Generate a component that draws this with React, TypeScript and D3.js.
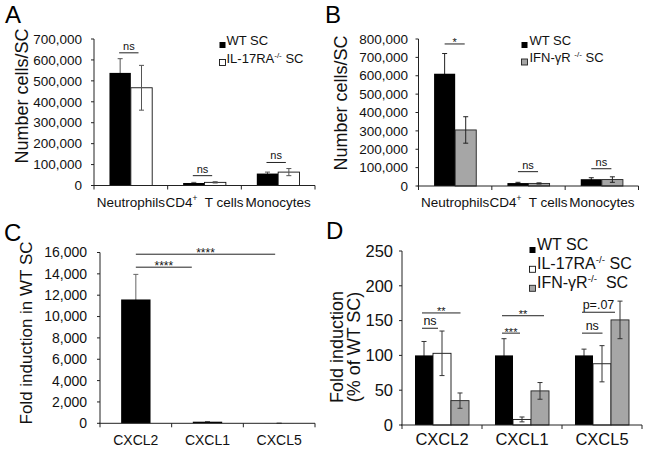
import React from "react";
import * as d3 from "d3";

// ---------- data ----------
const cellCategories = ["Neutrophils", "CD4^{+}  T cells", "Monocytes"];
const chemokines = ["CXCL2", "CXCL1", "CXCL5"];

const aWT = [538000, 12000, 57000];
const aWTErr = [68000, 3000, 7000];
const aIL17 = [467000, 15000, 64000];
const aIL17Err = [107000, 3000, 17000];
const aTicks = [0, 100000, 200000, 300000, 400000, 500000, 600000, 700000];

const bWT = [611000, 16000, 37000];
const bWTErr = [110000, 4000, 8000];
const bIFN = [305000, 14000, 35000];
const bIFNErr = [72000, 3000, 15000];
const bTicks = [0, 100000, 200000, 300000, 400000, 500000, 600000, 700000, 800000];

const cWT = [11600, 150, 5];
const cWTErr = [2350, 20, 2];
const cTicks = [0, 2000, 4000, 6000, 8000, 10000, 12000, 14000, 16000];

const dWT = [100, 100, 100];
const dWTErr = [20, 24, 9];
const dIL17 = [103, 8, 88];
const dIL17Err = [32, 3.5, 26];
const dIFN = [35, 49, 151];
const dIFNErr = [11, 12, 27];
const dTicks = [0, 50, 100, 150, 200, 250];

const aSigLabels = ["ns", "ns", "ns"];
const aSigLevels = [634000, 47000, 110000];
const bSigLabels = ["*", "ns", "ns"];
const bSigLevels = [773000, 78000, 94000];
const cSigLabels = ["****", "****"];
const cSigLevels = [15840, 14625];
const dSigLabels = ["**", "ns", "**", "***", "p=.07", "ns"];
const dSigLevels = [161, 139, 157, 132, 162, 132];

const legendWT = "WT SC";
const legendIL17 = "IL-17RA^{-/-} SC";
const legendIFNb = "IFN-γR ^{-/-} SC";
const legendIFNd = "IFN-γR^{-/-}  SC";

const FONT = "'Liberation Sans', Arial, sans-serif";
const GREY = "#a6a6a6";
const fmt = d3.format(",");

// ---------- helpers ----------
function Rich({ text, fs, ...rest }: any) {
  const parts: any[] = [];
  const re = /\^\{([^}]*)\}/g;
  let last = 0;
  let m: any;
  let k = 0;
  let raised = false;
  while ((m = re.exec(text)) !== null) {
    if (m.index > last) {
      parts.push(
        <tspan key={k++} fontSize={fs} dy={raised ? fs * 0.38 : 0}>
          {text.slice(last, m.index)}
        </tspan>
      );
      raised = false;
    }
    parts.push(
      <tspan key={k++} fontSize={fs * 0.62} dy={-fs * 0.38}>
        {m[1]}
      </tspan>
    );
    raised = true;
    last = m.index + m[0].length;
  }
  if (last < text.length) {
    parts.push(
      <tspan key={k++} fontSize={fs} dy={raised ? fs * 0.38 : 0}>
        {text.slice(last)}
      </tspan>
    );
  }
  return (
    <text fontSize={fs} fontFamily={FONT} style={{ whiteSpace: "pre" }} {...rest}>
      {parts}
    </text>
  );
}

type Series = { name: string; values: number[]; errs: number[]; fill: string; stroke: string; err: string };

function Panel(p: any) {
  const { cats, series, yMax, ticks, xRange, yRange, groupFrac, tickLabelX, tickFont, catLabelY, catFont } = p;
  const x = d3.scaleBand<string>().domain(cats).range(xRange).padding(0);
  const y = d3.scaleLinear().domain([0, yMax]).range(yRange);
  const inner = (c: string) => {
    const x0 = x(c)!;
    const bw = x.bandwidth();
    return d3
      .scaleBand<string>()
      .domain(series.map((s: Series) => s.name))
      .range([x0 + (bw * (1 - groupFrac)) / 2, x0 + (bw * (1 + groupFrac)) / 2])
      .padding(0);
  };
  const y0 = y(0);
  const axisColor = "#222";
  const cap = 2.5;
  const boundaries = cats.map((c: string) => x(c)!).concat([xRange[1]]);

  const errBar = (cx: number, v: number, e: number, color: string, key: string) => (
    <g key={key} stroke={color} strokeWidth={1}>
      <line x1={cx} x2={cx} y1={y(v + e)} y2={y(Math.max(0, v - e))} />
      <line x1={cx - cap} x2={cx + cap} y1={y(v + e)} y2={y(v + e)} />
      <line x1={cx - cap} x2={cx + cap} y1={y(Math.max(0, v - e))} y2={y(Math.max(0, v - e))} />
    </g>
  );

  return (
    <g>
      {cats.map((c: string, ci: number) => {
        const ib = inner(c);
        return (
          <g key={c}>
            {series.map((s: Series) => {
              const bx = ib(s.name)!;
              const bw = ib.bandwidth();
              const v = s.values[ci];
              const rect = (
                <rect
                  key={"r" + s.name}
                  x={bx}
                  y={y(v)}
                  width={bw}
                  height={y0 - y(v)}
                  fill={s.fill}
                  stroke={s.stroke}
                  strokeWidth={s.stroke === "none" ? 0 : 0.9}
                />
              );
              const eb = errBar(bx + bw / 2, v, s.errs[ci], s.err, "e" + s.name);
              return (
                <g key={s.name}>
                  {s.fill === "#000" ? [eb, rect] : [rect, eb]}
                </g>
              );
            })}
          </g>
        );
      })}
      {/* y axis */}
      <line x1={xRange[0]} x2={xRange[0]} y1={y0} y2={y(yMax)} stroke={axisColor} strokeWidth={1} />
      {ticks.map((t: number) => (
        <g key={t}>
          <line x1={xRange[0] - 3} x2={xRange[0]} y1={y(t)} y2={y(t)} stroke={axisColor} strokeWidth={1} />
          <text
            x={tickLabelX}
            y={y(t)}
            dy="0.35em"
            textAnchor="end"
            fontSize={tickFont}
            fontFamily={FONT}
            fill="#111"
          >
            {fmt(t)}
          </text>
        </g>
      ))}
      {/* x axis */}
      <line x1={xRange[0] - 1} x2={xRange[1]} y1={y0} y2={y0} stroke={axisColor} strokeWidth={1} />
      {boundaries.map((b: number, i: number) => (
        <line key={i} x1={b} x2={b} y1={y0} y2={y0 + 4} stroke={axisColor} strokeWidth={1} />
      ))}
      {cats.map((c: string) => (
        <Rich
          key={"l" + c}
          text={c}
          fs={catFont}
          x={x(c)! + x.bandwidth() / 2}
          y={catLabelY}
          textAnchor="middle"
          fill="#111"
        />
      ))}
      {p.children ? p.children({ x, y, inner }) : null}
    </g>
  );
}

function Sig({ x1, x2, y, label, fs }: any) {
  const isStar = /^\*+$/.test(label);
  return (
    <g>
      <line x1={x1} x2={x2} y1={y} y2={y} stroke="#222" strokeWidth={1} />
      <text
        x={(x1 + x2) / 2}
        y={isStar ? y + 2.5 : y - 3}
        textAnchor="middle"
        fontSize={fs}
        fontFamily={FONT}
        fill="#111"
      >
        {label}
      </text>
    </g>
  );
}

function Legend({ items, x, ys, size, textX, fs }: any) {
  return (
    <g>
      {items.map((it: any, i: number) => (
        <g key={i}>
          <rect
            x={x}
            y={ys[i] - size / 2}
            width={size}
            height={size}
            fill={it.fill}
            stroke={it.stroke}
            strokeWidth={it.stroke === "none" ? 0 : 0.9}
          />
          <Rich text={it.label} fs={fs} x={textX} y={ys[i]} dy="0.36em" fill="#111" />
        </g>
      ))}
    </g>
  );
}

export default function App() {
  const sA: Series[] = [
    { name: "WT", values: aWT, errs: aWTErr, fill: "#000", stroke: "none", err: "#555" },
    { name: "IL17", values: aIL17, errs: aIL17Err, fill: "#fff", stroke: "#111", err: "#555" },
  ];
  const sB: Series[] = [
    { name: "WT", values: bWT, errs: bWTErr, fill: "#000", stroke: "none", err: "#222" },
    { name: "IFN", values: bIFN, errs: bIFNErr, fill: GREY, stroke: "#222", err: "#222" },
  ];
  const sC: Series[] = [{ name: "WT", values: cWT, errs: cWTErr, fill: "#000", stroke: "none", err: "#666" }];
  const sD: Series[] = [
    { name: "WT", values: dWT, errs: dWTErr, fill: "#000", stroke: "none", err: "#333" },
    { name: "IL17", values: dIL17, errs: dIL17Err, fill: "#fff", stroke: "#111", err: "#333" },
    { name: "IFN", values: dIFN, errs: dIFNErr, fill: GREY, stroke: "#222", err: "#333" },
  ];

  const center = (inner: any, x: any, c: string, s: string) => inner(c)(s) + inner(c).bandwidth() / 2;

  return (
    <svg
      width={649}
      height={452}
      style={{ position: "absolute", left: 0, top: 0, background: "#fff" }}
      fontFamily={FONT}
    >
      <rect x={0} y={0} width={649} height={452} fill="#fff" />
      {/* Panel letters */}
      <text x={5} y={23} fontSize={24} fontFamily={FONT}>A</text>
      <text x={325} y={23} fontSize={24} fontFamily={FONT}>B</text>
      <text x={4} y={241} fontSize={24} fontFamily={FONT}>C</text>
      <text x={326} y={239} fontSize={24} fontFamily={FONT}>D</text>

      {/* Panel A */}
      <text transform="translate(28,96) rotate(-90)" textAnchor="middle" fontSize={18} fontFamily={FONT} fill="#111">
        Number cells/SC
      </text>
      <Panel
        cats={cellCategories}
        series={sA}
        yMax={700000}
        ticks={aTicks}
        xRange={[94, 315]}
        yRange={[185.5, 39]}
        groupFrac={0.58}
        tickLabelX={82}
        tickFont={13.5}
        catLabelY={206.5}
        catFont={13.5}
      >
        {({ x, y, inner }: any) =>
          cellCategories.map((c, i) => (
            <Sig
              key={i}
              x1={center(inner, x, c, "WT") - 1}
              x2={center(inner, x, c, "IL17") - 3}
              y={y(aSigLevels[i])}
              label={aSigLabels[i]}
              fs={11}
            />
          ))
        }
      </Panel>
      <Legend
        items={[
          { fill: "#000", stroke: "none", label: legendWT },
          { fill: "#fff", stroke: "#111", label: legendIL17 },
        ]}
        x={219.5}
        ys={[45, 62.5]}
        size={6}
        textX={226.5}
        fs={13}
      />

      {/* Panel B */}
      <text transform="translate(347,103) rotate(-90)" textAnchor="middle" fontSize={18} fontFamily={FONT} fill="#111">
        Number cells/SC
      </text>
      <Panel
        cats={cellCategories}
        series={sB}
        yMax={800000}
        ticks={bTicks}
        xRange={[418.5, 638.5]}
        yRange={[186, 39]}
        groupFrac={0.575}
        tickLabelX={408}
        tickFont={13.5}
        catLabelY={206.5}
        catFont={13.5}
      >
        {({ x, y, inner }: any) =>
          cellCategories.map((c, i) => (
            <Sig
              key={i}
              x1={center(inner, x, c, "WT")}
              x2={center(inner, x, c, "IFN") - 1}
              y={y(bSigLevels[i])}
              label={bSigLabels[i]}
              fs={11}
            />
          ))
        }
      </Panel>
      <Legend
        items={[
          { fill: "#000", stroke: "none", label: legendWT },
          { fill: GREY, stroke: "#222", label: legendIFNb },
        ]}
        x={521.5}
        ys={[45, 62]}
        size={6}
        textX={529.5}
        fs={13}
      />

      {/* Panel C */}
      <text transform="translate(32,333) rotate(-90)" textAnchor="middle" fontSize={17} fontFamily={FONT} fill="#111">
        Fold induction in WT SC
      </text>
      <Panel
        cats={chemokines}
        series={sC}
        yMax={16000}
        ticks={cTicks}
        xRange={[100, 315]}
        yRange={[423.3, 252.5]}
        groupFrac={0.41}
        tickLabelX={87}
        tickFont={14}
        catLabelY={444.5}
        catFont={14}
      >
        {({ x, y, inner }: any) => (
          <g>
            <Sig
              x1={center(inner, x, chemokines[0], "WT")}
              x2={center(inner, x, chemokines[2], "WT") - 4}
              y={y(cSigLevels[0])}
              label={cSigLabels[0]}
              fs={12}
            />
            <Sig
              x1={center(inner, x, chemokines[0], "WT")}
              x2={inner(chemokines[1])("WT") - 1}
              y={y(cSigLevels[1])}
              label={cSigLabels[1]}
              fs={12}
            />
          </g>
        )}
      </Panel>

      {/* Panel D */}
      <text transform="translate(342.5,347) rotate(-90)" textAnchor="middle" fontSize={18} fontFamily={FONT} fill="#111">
        Fold induction
      </text>
      <text transform="translate(359.5,347) rotate(-90)" textAnchor="middle" fontSize={18} fontFamily={FONT} fill="#111">
        (% of WT SC)
      </text>
      <Panel
        cats={chemokines}
        series={sD}
        yMax={250}
        ticks={dTicks}
        xRange={[402, 642]}
        yRange={[425, 251]}
        groupFrac={0.675}
        tickLabelX={393}
        tickFont={16.5}
        catLabelY={445}
        catFont={16.5}
      >
        {({ x, y, inner }: any) => {
          const pairs: [number, string, number][] = [
            [0, "IFN", 0.5],
            [0, "IL17", -4],
            [1, "IFN", 4],
            [1, "IL17", -2],
            [2, "IFN", -5],
            [2, "IL17", 0.5],
          ];
          return pairs.map(([ci, s, off], i) => (
            <Sig
              key={i}
              x1={center(inner, x, chemokines[ci], "WT") - 2}
              x2={center(inner, x, chemokines[ci], s) + off}
              y={y(dSigLevels[i])}
              label={dSigLabels[i]}
              fs={/^\*+$/.test(dSigLabels[i]) ? 11 : 12.5}
            />
          ));
        }}
      </Panel>
      <Legend
        items={[
          { fill: "#000", stroke: "none", label: legendWT },
          { fill: "#fff", stroke: "#111", label: legendIL17 },
          { fill: GREY, stroke: "#222", label: legendIFNd },
        ]}
        x={529.5}
        ys={[250, 269.3, 288.3]}
        size={6}
        textX={537}
        fs={16}
      />
    </svg>
  );
}
